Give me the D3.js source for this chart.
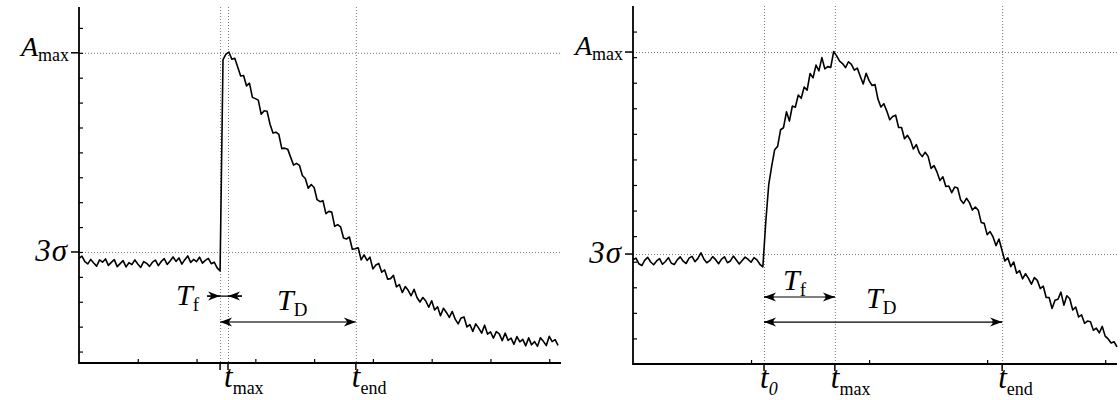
<!DOCTYPE html>
<html>
<head>
<meta charset="utf-8">
<script src="https://cdn.jsdelivr.net/npm/d3@7"></script>
<style>
  html, body { margin: 0; padding: 0; background: #fff; }
  svg text { font-family: "Liberation Serif", "Times New Roman", serif; }
</style>
</head>
<body>
<svg id="chart" width="1120" height="400"></svg>
<script>
// left trace: sampled every 0.5 time units starting at 0
const leftStep = 0.5;
const leftSignal = [
  47.4, 48.3, 46.1, 45.2, 47.0, 45.6, 44.3, 46.8, 45.9, 47.2,
  44.6, 45.8, 46.9, 44.1, 45.3, 46.5, 44.0, 45.7, 44.9, 46.8,
  45.2, 43.8, 46.1, 45.5, 44.2, 45.9, 46.7, 44.5, 46.2, 47.3,
  45.0, 46.4, 48.0, 46.2, 47.6, 45.1, 46.9, 48.4, 45.8, 47.0,
  46.1, 47.9, 45.5, 46.6, 47.4, 45.3, 45.9, 43.6, 42.4,
  127.3, 129.5, 130.3, 127.4, 127.8, 124.3, 120.7, 120.9, 116.7, 117.8,
  112.1, 111.6, 111.0, 105.3, 106.7, 106.5, 101.3, 97.8, 98.1, 97.2,
  91.5, 91.7, 91.3, 88.1, 84.9, 85.6, 84.8, 80.7, 79.5, 75.6,
  77.1, 75.9, 71.0, 70.2, 70.6, 65.4, 66.3, 66.0, 60.3, 61.0,
  60.1, 55.6, 55.2, 56.0, 51.1, 51.3, 51.7, 46.8, 48.8, 46.6,
  47.9, 43.2, 44.8, 45.4, 41.9, 42.8, 39.1, 39.3, 40.6, 36.0,
  36.9, 33.7, 36.1, 34.6, 32.4, 35.0, 31.7, 29.9, 31.7, 30.3,
  27.8, 30.4, 26.7, 28.0, 24.4, 27.4, 25.7, 23.7, 26.1, 23.0,
  21.1, 23.5, 23.9, 19.9, 20.8, 18.1, 21.1, 19.4, 17.4, 20.6,
  17.0, 17.9, 15.4, 18.0, 17.1, 14.4, 17.4, 14.5, 15.4, 12.9,
  16.0, 13.9, 14.9, 12.3, 15.5, 12.7, 14.0, 12.1, 15.5, 14.1,
  12.4, 16.1, 14.0, 14.8, 12.5
];
const leftAmax = 130;
const leftSigma = 50;
const leftTimes = [
  { name: "t0", value: 24.0, label: null },
  { name: "tmax", value: 25.35, label: "max" },
  { name: "tend", value: 47.1, label: "end" }
];

// right trace: sampled every 0.25 time units starting at 0
const rightStep = 0.25;
const rightSignal = [
  40.8, 41.4, 39.2, 38.5, 40.6, 41.7, 39.9, 38.8, 40.3, 41.2,
  39.0, 40.1, 41.6, 39.4, 38.9, 40.7, 41.9, 40.2, 39.3, 41.4,
  42.1, 40.0, 41.3, 43.5, 41.1, 39.6, 40.4, 42.0, 40.8, 39.2,
  41.0, 41.9, 39.6, 40.3, 42.2, 40.7, 39.1, 40.5, 41.8, 40.9,
  39.8, 41.6, 40.7, 39.0, 38.0,
  55.7, 70.2, 77.4, 83.8, 85.1, 91.6, 92.4, 98.6, 95.0, 100.9,
  100.4, 105.2, 103.9, 108.3, 107.1, 113.6, 111.9, 116.9, 114.6, 119.8,
  115.4, 116.3, 116.0, 122.2, 120.5,
  118.4, 117.5, 115.9, 118.2, 117.2, 114.9, 115.7, 112.5, 109.5, 113.7,
  110.8, 108.9, 109.3, 103.6, 100.5, 101.8, 98.9, 95.5, 96.8, 97.3,
  92.5, 92.5, 88.1, 89.4, 87.5, 84.1, 85.8, 82.6, 81.1, 82.8,
  81.2, 76.5, 77.6, 75.1, 71.8, 73.2, 69.4, 69.6, 67.0, 69.2,
  68.8, 64.2, 62.8, 64.8, 63.1, 60.2, 61.4, 60.1, 55.3, 55.0,
  50.6, 51.8, 49.7, 46.3, 48.9, 44.6, 40.3, 41.5, 38.1, 39.9,
  35.5, 36.5, 33.3, 35.3, 33.5, 31.2, 33.8, 32.7, 29.5, 30.5,
  26.0, 26.0, 21.7, 24.9, 25.3, 28.1, 23.0, 26.7, 25.5, 21.1,
  22.3, 18.4, 19.2, 15.9, 16.8, 16.5, 13.2, 14.0, 12.2, 14.7,
  10.9, 9.8, 8.2, 8.7, 6.7
];
const rightAmax = 122;
const rightSigma = 43;
const rightTimes = [
  { name: "t0", value: 11.1, label: "0" },
  { name: "tmax", value: 17.1, label: "max" },
  { name: "tend", value: 31.27, label: "end" }
];

const FONT = "Liberation Serif";
const svg = d3.select("#chart");

// arrow head marker
const defs = svg.append("defs");
defs.append("marker")
    .attr("id", "head")
    .attr("viewBox", "-13 -6 14 12")
    .attr("markerUnits", "userSpaceOnUse")
    .attr("markerWidth", 14)
    .attr("markerHeight", 12)
    .attr("refX", 0)
    .attr("refY", 0)
    .attr("orient", "auto")
    .append("path")
    .attr("d", "M0,0 L-12,-4.5 L-8.5,0 L-12,4.5 Z")
    .attr("fill", "#000");

function drawPanel(cfg) {
    const x = d3.scaleLinear().domain(cfg.xDomain).range(cfg.xRange);
    const y = d3.scaleLinear().domain(cfg.yDomain).range(cfg.yRange);
    const g = svg.append("g");
    const x0 = cfg.xRange[0], y0 = cfg.yRange[0];

    // dotted guide lines
    const dot = sel => sel.attr("stroke", "#777").attr("stroke-width", 1)
        .attr("stroke-dasharray", "1,2").attr("fill", "none");
    [cfg.amax, cfg.sigma].forEach(v => {
        g.append("line").call(dot)
            .attr("x1", x0).attr("x2", cfg.xRange[1])
            .attr("y1", y(v) + 0.5).attr("y2", y(v) + 0.5);
    });
    cfg.times.forEach(t => {
        g.append("line").call(dot)
            .attr("x1", x(t.value) + 0.5).attr("x2", x(t.value) + 0.5)
            .attr("y1", cfg.yRange[1]).attr("y2", y0);
    });

    // minor ticks (inward)
    const yAxis = d3.axisRight(y).tickValues(cfg.yTicks).tickSize(4).tickFormat("");
    g.append("g").attr("transform", `translate(${x0},0)`).call(yAxis)
        .call(a => a.select(".domain").remove())
        .selectAll("line").attr("stroke-width", 1.2);
    const xAxis = d3.axisTop(x).tickValues(cfg.xTicks).tickSize(4).tickFormat("");
    g.append("g").attr("transform", `translate(0,${y0})`).call(xAxis)
        .call(a => a.select(".domain").remove())
        .selectAll("line").attr("stroke-width", 1.2);

    // major ticks (outward)
    [cfg.amax, cfg.sigma].forEach(v => {
        g.append("line").attr("stroke", "#000").attr("stroke-width", 1.5)
            .attr("x1", x0 - 8).attr("x2", x0)
            .attr("y1", y(v)).attr("y2", y(v));
    });
    cfg.times.forEach(t => {
        g.append("line").attr("stroke", "#000").attr("stroke-width", 1.5)
            .attr("x1", x(t.value)).attr("x2", x(t.value))
            .attr("y1", y0).attr("y2", y0 + 7);
    });

    // axis lines
    g.append("path")
        .attr("d", `M${x0},${cfg.yRange[1]} V${y0} H${cfg.xRange[1]}`)
        .attr("fill", "none").attr("stroke", "#000").attr("stroke-width", 1.8);

    // signal
    const line = d3.line()
        .x((d, i) => x(i * cfg.step))
        .y(d => y(d));
    g.append("path").datum(cfg.signal)
        .attr("d", line)
        .attr("fill", "none").attr("stroke", "#000")
        .attr("stroke-width", 1.6).attr("stroke-linejoin", "round");

    // y labels
    const amaxT = g.append("text").attr("text-anchor", "end").attr("font-family", FONT)
        .attr("x", x0 - 10).attr("y", y(cfg.amax) + 3);
    amaxT.append("tspan").attr("font-style", "italic").attr("font-size", 28).text("A");
    amaxT.append("tspan").attr("font-size", 18).attr("dy", 5).text("max");

    g.append("text").attr("text-anchor", "end").attr("font-family", FONT)
        .attr("x", x0 - 11).attr("y", y(cfg.sigma) + 9)
        .attr("font-style", "italic").attr("font-size", 31)
        .attr("letter-spacing", 1)
        .text("3\u03c3");

    // time labels
    cfg.times.filter(t => t.label !== null).forEach(t => {
        const tt = g.append("text").attr("font-family", FONT)
            .attr("x", x(t.value) - 4).attr("y", y0 + 24);
        tt.append("tspan").attr("font-style", "italic").attr("font-size", 31).text("t");
        tt.append("tspan").attr("font-size", 18).attr("dy", 7)
            .attr("font-style", t.label === "0" ? "italic" : "normal").text(t.label);
    });

    return { x, y, g };
}

function arrow(g, x1, x2, yy, color, width) {
    g.append("line")
        .attr("x1", x1).attr("x2", x2).attr("y1", yy).attr("y2", yy)
        .attr("stroke", color).attr("stroke-width", width)
        .attr("marker-end", "url(#head)");
}

function tLabel(g, xx, yy, sub) {
    const t = g.append("text").attr("font-family", FONT).attr("x", xx).attr("y", yy);
    t.append("tspan").attr("font-style", "italic").attr("font-size", 30).text("T");
    t.append("tspan").attr("font-size", 19).attr("dy", 6).text(sub);
}

// ---- left panel ----
const L = drawPanel({
    xDomain: [0, 82], xRange: [79, 561],
    yDomain: [5.4, 148.4], yRange: [363, 7],
    xTicks: d3.range(10, 81, 10), yTicks: d3.range(10, 141, 10),
    step: leftStep, signal: leftSignal,
    amax: leftAmax, sigma: leftSigma, times: leftTimes
});
{
    const t0 = L.x(leftTimes[0].value), tm = L.x(leftTimes[1].value), te = L.x(leftTimes[2].value);
    const yf = L.y(32.3), yd = L.y(21.9);
    L.g.append("line").attr("x1", t0 - 13).attr("x2", tm + 14)
        .attr("y1", yf).attr("y2", yf).attr("stroke", "#000").attr("stroke-width", 1.2);
    arrow(L.g, t0 - 13, t0, yf, "#000", 1.2);
    arrow(L.g, tm + 14, tm, yf, "#000", 1.2);
    L.g.append("line").attr("x1", t0 + 6).attr("x2", te - 6)
        .attr("y1", yd).attr("y2", yd).attr("stroke", "#707070").attr("stroke-width", 2);
    arrow(L.g, t0 + 8, t0, yd, "#000", 1);
    arrow(L.g, te - 8, te, yd, "#000", 1);
    tLabel(L.g, 176, yf + 9, "f");
    tLabel(L.g, 277, yd - 12, "D");
}

// ---- right panel ----
const R = drawPanel({
    xDomain: [0, 41], xRange: [633, 1117],
    yDomain: [0, 140], yRange: [364, 6],
    xTicks: d3.range(10, 41, 10), yTicks: d3.range(10, 131, 10),
    step: rightStep, signal: rightSignal,
    amax: rightAmax, sigma: rightSigma, times: rightTimes
});
{
    const t0 = R.x(rightTimes[0].value), tm = R.x(rightTimes[1].value), te = R.x(rightTimes[2].value);
    const yf = R.y(26.2), yd = R.y(16.4);
    R.g.append("line").attr("x1", t0).attr("x2", tm)
        .attr("y1", yf).attr("y2", yf).attr("stroke", "#000").attr("stroke-width", 1.2);
    arrow(R.g, t0 + 10, t0, yf, "#000", 1.2);
    arrow(R.g, tm - 10, tm, yf, "#000", 1.2);
    R.g.append("line").attr("x1", t0).attr("x2", te)
        .attr("y1", yd).attr("y2", yd).attr("stroke", "#000").attr("stroke-width", 1.2);
    arrow(R.g, t0 + 10, t0, yd, "#000", 1.2);
    arrow(R.g, te - 10, te, yd, "#000", 1.2);
    tLabel(R.g, 783, yf - 7, "f");
    tLabel(R.g, 866, yd - 14, "D");
}
</script>
</body>
</html>
